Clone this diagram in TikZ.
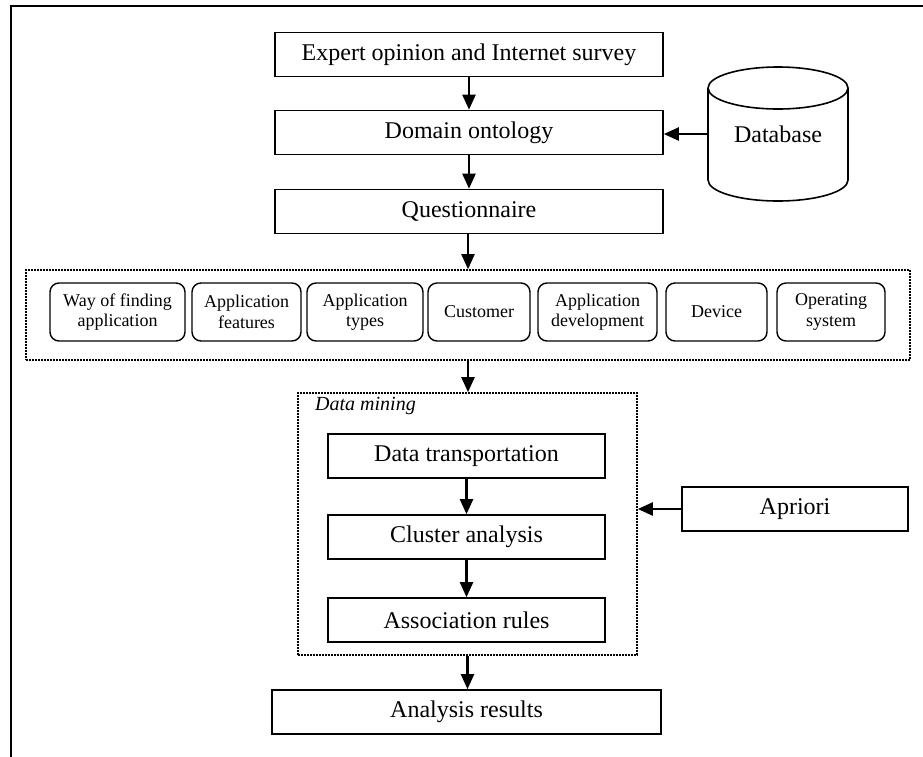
\documentclass[tikz,border=0pt]{standalone}
\usepackage{fontspec}
\setmainfont{Liberation Serif}
\usetikzlibrary{arrows.meta}
\begin{document}
\begin{tikzpicture}[x=1pt,y=-1pt,
  box/.style={draw, line width=1.6pt, inner sep=0pt, minimum height=44pt, font=\fontsize{24}{28}\selectfont},
  rbox/.style={draw, line width=1.4pt, rounded corners=9pt, inner sep=0pt, align=center, minimum height=58pt, font=\fontsize{18}{20.5}\selectfont},
  group/.style={draw, line width=1.6pt, dash pattern=on 1.6pt off 1.4pt, inner sep=0pt},
  arr/.style={line width=2.2pt, -{Triangle[width=13pt,length=15pt]}},
  frame/.style={line width=2pt}]
\useasboundingbox (0,0) rectangle (923,756);
\clip (0,0) rectangle (923,756);
\draw[frame] (11,780) -- (11,6) -- (940,6);

% top column
\node[box, minimum width=388pt] (exp) at (469,54.5) {Expert opinion and Internet survey};
\node[box, minimum width=388pt] (dom) at (469,132.5) {Domain ontology};
\node[box, minimum width=388pt] (q) at (469,211.5) {Questionnaire};

% database cylinder
\draw[line width=1.6pt] (778,88) ellipse [x radius=70pt, y radius=21pt];
\draw[line width=1.6pt] (708,88) -- (708,180) arc[start angle=180, end angle=360, x radius=70pt, y radius=21pt] -- (848,88);
\node[inner sep=0pt, minimum width=140pt, minimum height=92pt, font=\fontsize{24}{28}\selectfont] (db) at (778,134) {Database};

% row of factors
\node[group, minimum width=884pt, minimum height=90pt] (row) at (468,315) {};
\node[rbox, minimum width=135pt] (f1) at (117.5,312) {Way of finding\\application};
\node[rbox, minimum width=109pt] (f2) at (246.5,312) {Application\\features};
\node[rbox, minimum width=116pt] (f3) at (365,312) {Application\\types};
\node[rbox, minimum width=102pt] (f4) at (479,312) {Customer};
\node[rbox, minimum width=119pt] (f5) at (597.5,312) {Application\\development};
\node[rbox, minimum width=101pt] (f6) at (716.5,312) {Device};
\node[rbox, minimum width=108pt] (f7) at (831,312) {Operating\\system};

% data mining group
\node[group, minimum width=339pt, minimum height=262pt] (dm) at (467.5,524) {};
\node[anchor=base west, inner sep=0pt, font=\itshape\fontsize{20}{24}\selectfont] (dml) at (315,410) {Data mining};
\node[box, minimum width=277pt] (dt) at (466.5,456) {Data transportation};
\node[box, minimum width=277pt] (cl) at (466.5,537) {Cluster analysis};
\node[box, minimum width=277pt] (as) at (466.5,620) {Association rules};

\node[box, minimum width=226pt] (ap) at (795,509) {Apriori};
\node[box, minimum width=389pt] (an) at (466.5,712) {Analysis results};

% connectors
\draw[arr] (exp.south) -- (dom.north);
\draw[arr] (dom.south) -- (q.north);
\draw[arr] (db.west) -- (db.west -| dom.east);
\draw[arr] (q.south -| row.north) -- (row.north);
\draw[arr] (row.south) -- (row.south |- dm.north);
\draw[arr] (dt.south) -- (cl.north);
\draw[arr] (cl.south) -- (as.north);
\draw[arr] (dm.south) -- (dm.south |- an.north);
\draw[arr] (ap.west) -- (ap.west -| dm.east);
\end{tikzpicture}
\end{document}
